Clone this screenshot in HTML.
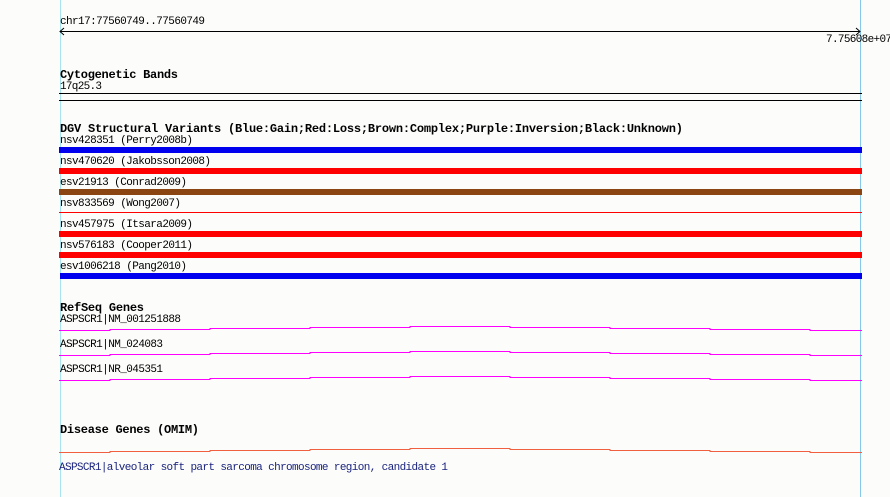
<!DOCTYPE html>
<html><head><meta charset="utf-8"><style>
html,body{margin:0;padding:0;background:#fcfdfb;}
svg{display:block;}
text{font-family:"Liberation Mono","DejaVu Sans Mono",monospace;font-size:11px;fill:#000;}
.b{font-weight:bold;font-size:12px;}
</style></head><body>
<svg width="890" height="497" xmlns="http://www.w3.org/2000/svg">
<rect width="890" height="497" fill="#fcfdfb"/>
<line x1="60.5" y1="0" x2="60.5" y2="497" stroke="#a8e4ef" stroke-width="1"/>
<line x1="860.5" y1="0" x2="860.5" y2="497" stroke="#87c8ea" stroke-width="1"/>
<text x="60" y="24" textLength="145">chr17:77560749..77560749</text>
<line x1="60" y1="31.5" x2="860" y2="31.5" stroke="#000"/>
<polyline points="64,28 60,31.5 64,35" fill="none" stroke="#000"/>
<polyline points="856,28 860,31.5 856,35" fill="none" stroke="#000"/>
<text x="826" y="42" textLength="66">7.75608e+07</text>
<text class="b" x="60" y="78" textLength="118">Cytogenetic Bands</text>
<text x="60" y="89" textLength="42">17q25.3</text>
<line x1="59" y1="93.5" x2="862" y2="93.5" stroke="#000"/>
<line x1="59" y1="100.5" x2="862" y2="100.5" stroke="#000"/>
<text class="b" x="60" y="132" textLength="623">DGV Structural Variants (Blue:Gain;Red:Loss;Brown:Complex;Purple:Inversion;Black:Unknown)</text>
<text x="60" y="143" textLength="133">nsv428351 (Perry2008b)</text>
<rect x="59" y="147" width="803" height="6" fill="#0000ee"/>
<text x="60" y="164" textLength="151">nsv470620 (Jakobsson2008)</text>
<rect x="59" y="168" width="803" height="6" fill="#ff0000"/>
<text x="60" y="185" textLength="127">esv21913 (Conrad2009)</text>
<rect x="59" y="189" width="803" height="6" fill="#8b4513"/>
<text x="60" y="206" textLength="121">nsv833569 (Wong2007)</text>
<line x1="59" y1="212.5" x2="862" y2="212.5" stroke="#ff0000"/>
<text x="60" y="227" textLength="133">nsv457975 (Itsara2009)</text>
<rect x="59" y="231" width="803" height="6" fill="#ff0000"/>
<text x="60" y="248" textLength="133">nsv576183 (Cooper2011)</text>
<rect x="59" y="252" width="803" height="6" fill="#ff0000"/>
<text x="60" y="269" textLength="127">esv1006218 (Pang2010)</text>
<rect x="60" y="273" width="802" height="6" fill="#0000ee"/>
<text class="b" x="60" y="311" textLength="84">RefSeq Genes</text>
<text x="60" y="322" textLength="121">ASPSCR1|NM_001251888</text>
<text x="60" y="347" textLength="103">ASPSCR1|NM_024083</text>
<text x="60" y="372" textLength="103">ASPSCR1|NR_045351</text>
<g fill="none" stroke="#ff00ff" stroke-width="1">
<polyline points="59,330.5 110,330.5 110,329.5 210,329.5 210,328.5 310,328.5 310,327.5 410,327.5 410,326.5 510,326.5 510,327.5 610,327.5 610,328.5 710,328.5 710,329.5 810,329.5 810,330.5 862,330.5"/>
<polyline points="59,355.5 110,355.5 110,354.5 210,354.5 210,353.5 310,353.5 310,352.5 410,352.5 410,351.5 510,351.5 510,352.5 610,352.5 610,353.5 710,353.5 710,354.5 810,354.5 810,355.5 862,355.5"/>
<polyline points="59,380.5 110,380.5 110,379.5 210,379.5 210,378.5 310,378.5 310,377.5 410,377.5 410,376.5 510,376.5 510,377.5 610,377.5 610,378.5 710,378.5 710,379.5 810,379.5 810,380.5 862,380.5"/>
</g>
<text class="b" x="60" y="433" textLength="139">Disease Genes (OMIM)</text>
<polyline fill="none" stroke="#f06040" points="59,452.5 110,452.5 110,451.5 210,451.5 210,450.5 310,450.5 310,449.5 410,449.5 410,448.5 510,448.5 510,449.5 610,449.5 610,450.5 710,450.5 710,451.5 810,451.5 810,452.5 862,452.5"/>
<text x="59" y="470" textLength="389" style="fill:#1a237e">ASPSCR1|alveolar soft part sarcoma chromosome region, candidate 1</text>
</svg>
</body></html>
